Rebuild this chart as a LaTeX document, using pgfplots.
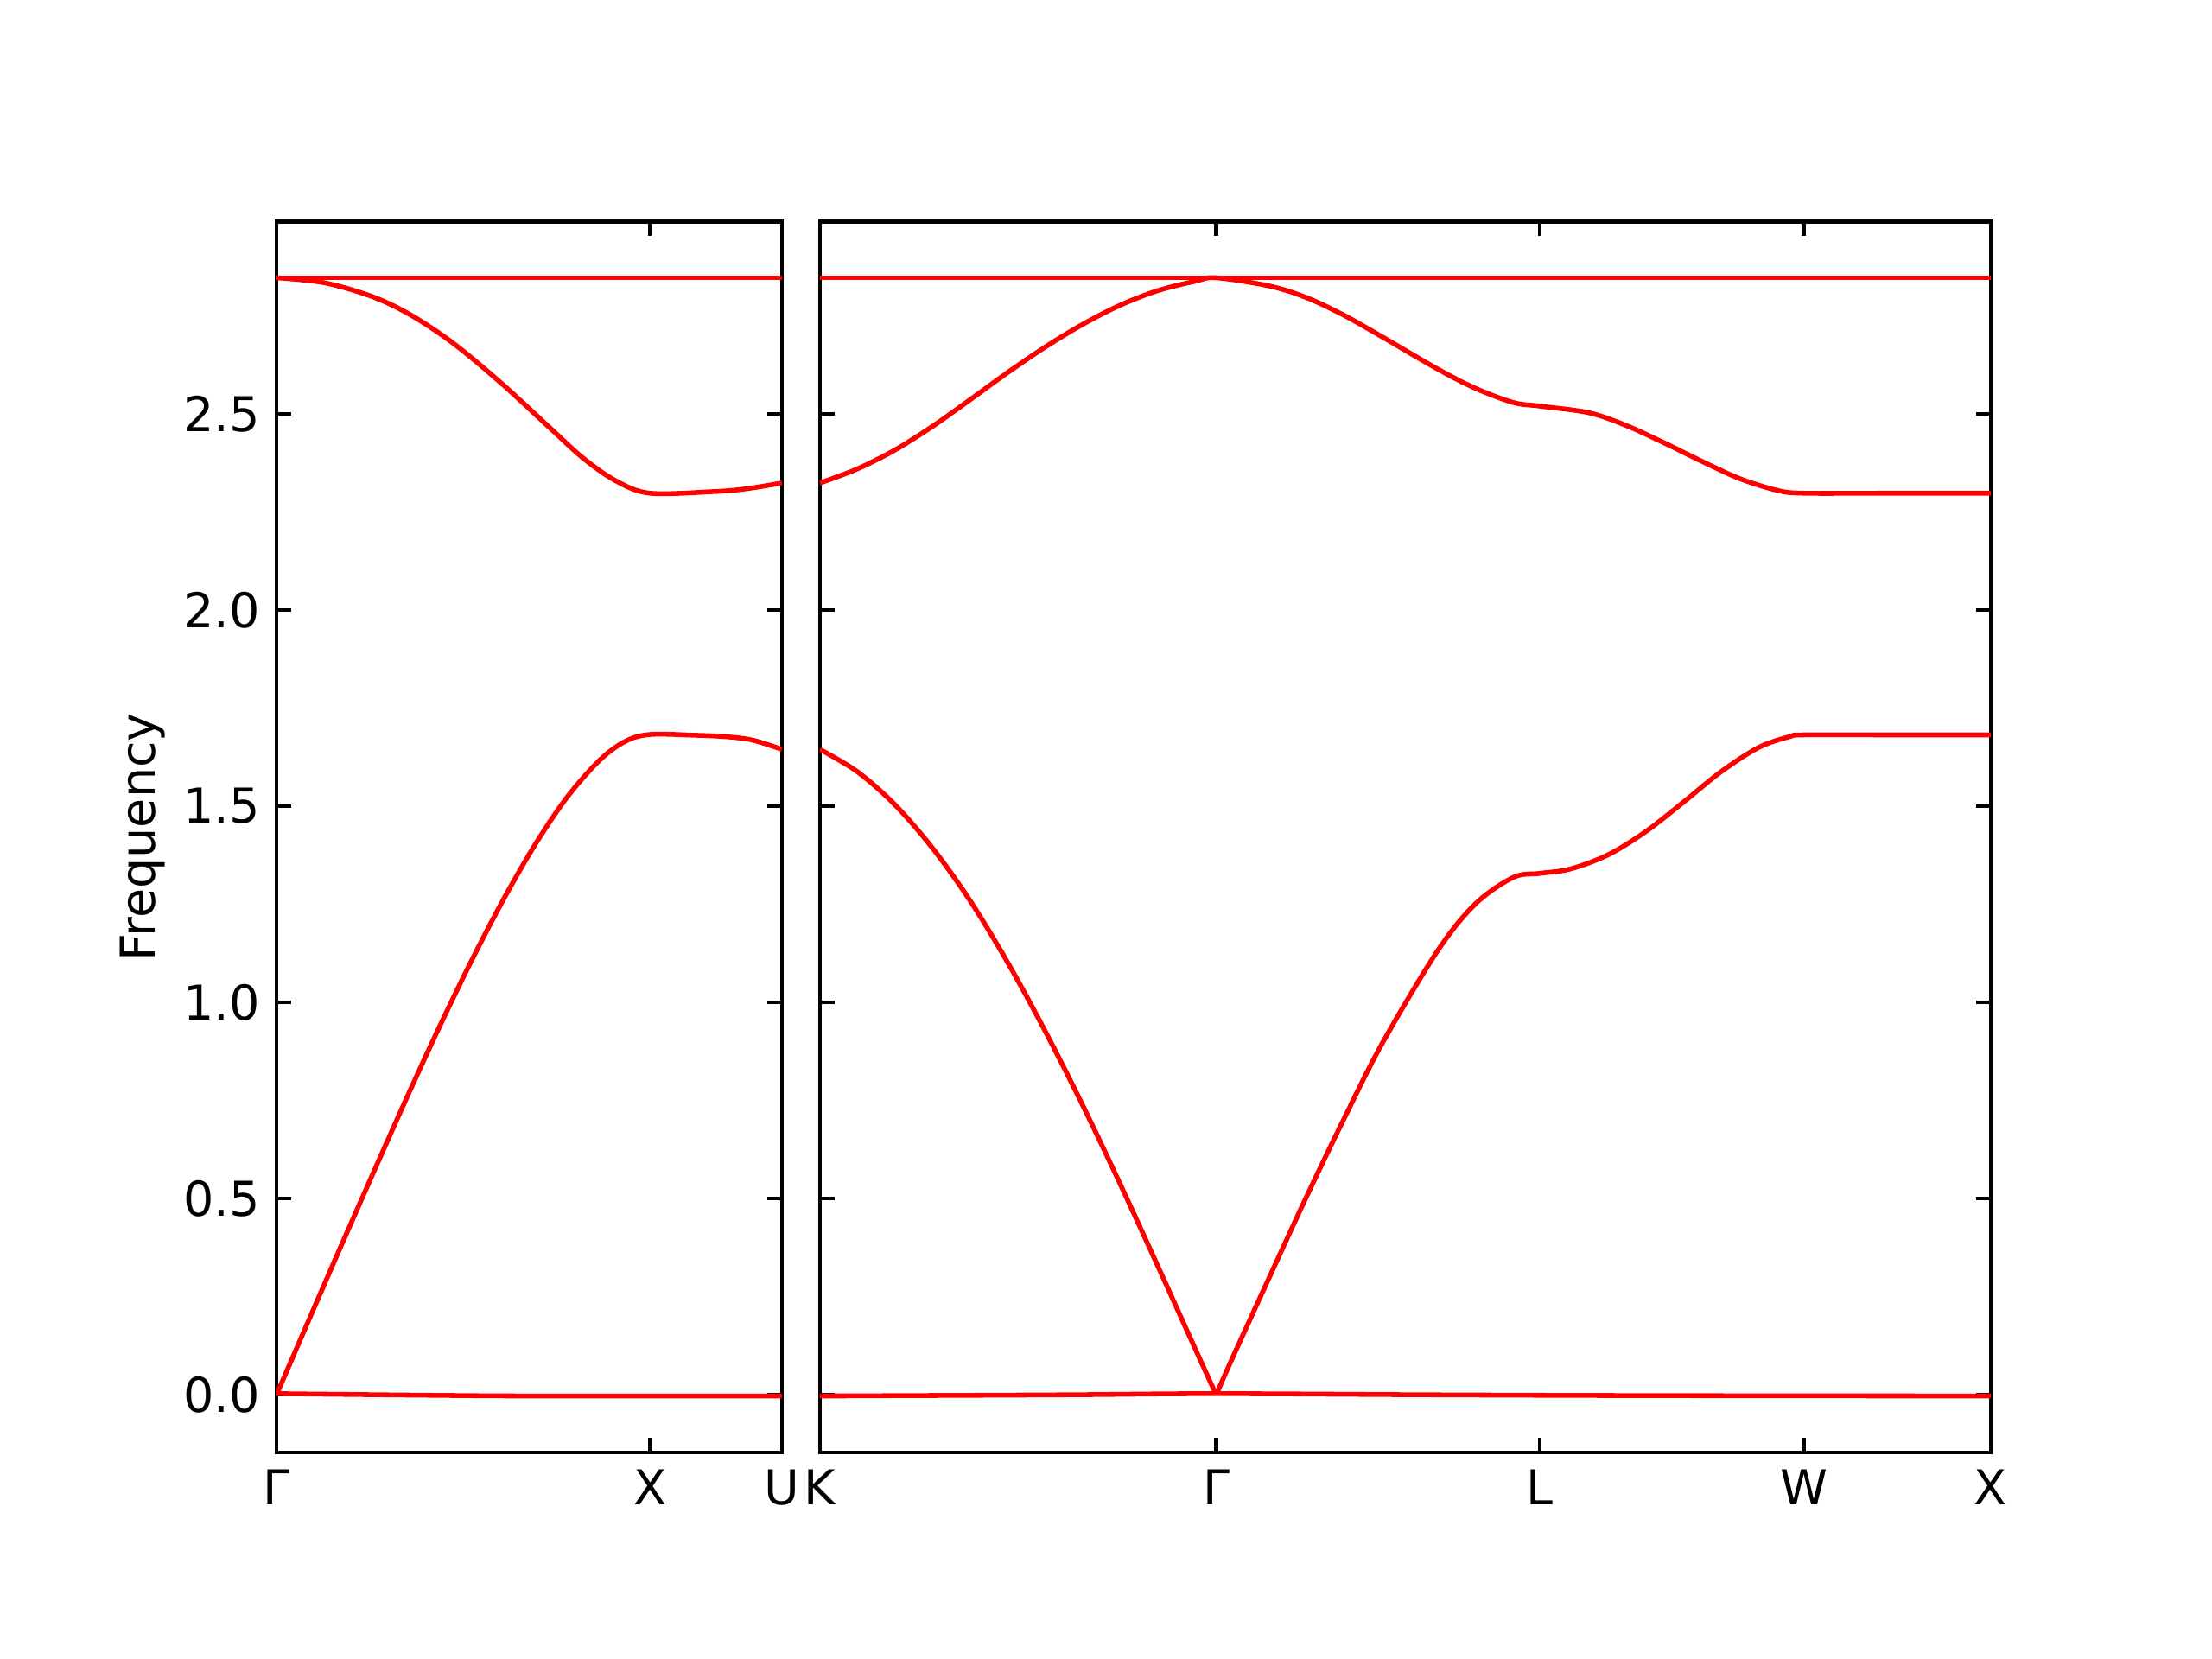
\documentclass[border=0pt]{standalone}
\usepackage{fontspec}
\setmainfont{DejaVu Sans}
\usepackage{pgfplots}
\pgfplotsset{compat=1.18}
\begin{document}
\begin{tikzpicture}
\useasboundingbox (0,0) rectangle (460.8pt,345.6pt);
\pgfplotsset{
  band/.style={red, line width=1pt, no markers, smooth, tension=0.55},
  bandaxis/.style={
    scale only axis, height=256.4pt, anchor=south west,
    ymin=-0.147, ymax=2.990,
    axis line style={line width=0.8pt},
    tick align=inside, tick pos=both, major tick length=3pt,
    every tick/.style={black, line width=0.8pt},
    ytick={0,0.5,1,1.5,2,2.5},
    yticklabel style={/pgf/number format/fixed, /pgf/number format/fixed zerofill,
      /pgf/number format/precision=1, /pgf/number format/assume math mode=true},
    tick label style={font=\fontsize{10}{12}\selectfont},
    label style={font=\fontsize{10}{12}\selectfont},
  }
}
% ---------------- left panel: Gamma - X - U ----------------
\begin{axis}[bandaxis, at={(57.6pt,43.02pt)}, width=105.3pt,
  xmin=0, xmax=1.3536, xtick={0,1,1.3536}, xticklabels={Γ,X,U},
  ylabel={Frequency},
  every axis y label/.style={at={(axis description cs:-0.2184,0.5)}, rotate=90, anchor=south, inner sep=0pt}]
\addplot[band] coordinates {(0,0.003) (0.4,-0.001) (0.7,-0.003) (1.3536,-0.003)};
\addplot[band] coordinates {(0,0) (0.0863,0.190) (0.1727,0.379) (0.2593,0.566) (0.3454,0.750)
  (0.4319,0.929) (0.5183,1.099) (0.6046,1.257) (0.691,1.400) (0.7773,1.522)
  (0.8637,1.616) (0.9329,1.665) (1.0,1.683) (1.1227,1.681) (1.209,1.677)
  (1.2778,1.668) (1.3536,1.645)};
\addplot[band] coordinates {(0,2.847) (0.1296,2.834) (0.2593,2.798) (0.3634,2.750) (0.4762,2.678)
  (0.606,2.575) (0.7361,2.461) (0.8229,2.386) (0.9097,2.329) (1.0,2.298)
  (1.169,2.302) (1.256,2.309) (1.3536,2.324)};
\addplot[band] coordinates {(0,2.847) (1.3536,2.847)};
\end{axis}
% ---------------- right panel: K - Gamma - L - W - X ----------------
\begin{axis}[bandaxis, at={(170.8pt,43.02pt)}, width=243.9pt,
  xmin=1.3536, xmax=4.4873, xtick={1.3536,2.4142,3.2802,3.9873,4.4873},
  xticklabels={K,Γ,L,W,X}, yticklabels={}]
\addplot[band] coordinates {(1.3536,-0.003) (2.0,0.000) (2.4142,0.003) (3.0,0.000) (3.6,-0.002) (4.4873,-0.003)};
\addplot[band] coordinates {(1.3536,1.645) (1.4541,1.588) (1.5543,1.504) (1.6545,1.394) (1.7552,1.260)
  (1.8555,1.103) (1.9559,0.928) (2.0564,0.739) (2.1569,0.538) (2.2571,0.330)
  (2.3573,0.119) (2.4142,0.0)};
\addplot[band] coordinates {(2.4142,0.0) (2.4578,0.094) (2.5582,0.303) (2.6585,0.510) (2.7587,0.708)
  (2.8594,0.897) (3.0078,1.133) (3.1089,1.252) (3.2099,1.319)
  (3.2802,1.329) (3.3612,1.340) (3.4624,1.376) (3.5633,1.435) (3.6642,1.510)
  (3.7654,1.588) (3.8663,1.650) (3.9471,1.677) (3.9873,1.682) (4.2,1.682) (4.4873,1.682)};
\addplot[band] coordinates {(1.3536,2.324) (1.4541,2.360) (1.5543,2.408) (1.6545,2.468) (1.7552,2.536)
  (1.8555,2.605) (1.9559,2.670) (2.0564,2.728) (2.1569,2.777) (2.2571,2.814)
  (2.3573,2.838) (2.4142,2.847) (2.5569,2.826) (2.6571,2.796) (2.7573,2.751)
  (2.8594,2.696) (3.0078,2.614) (3.1089,2.565) (3.2099,2.529)
  (3.2802,2.520) (3.4119,2.503) (3.5129,2.470) (3.6138,2.426) (3.7147,2.379)
  (3.8159,2.335) (3.9168,2.305) (3.9873,2.298) (4.2,2.298) (4.4873,2.298)};
\addplot[band] coordinates {(1.3536,2.847) (4.4873,2.847)};
\end{axis}
\end{tikzpicture}
\end{document}
